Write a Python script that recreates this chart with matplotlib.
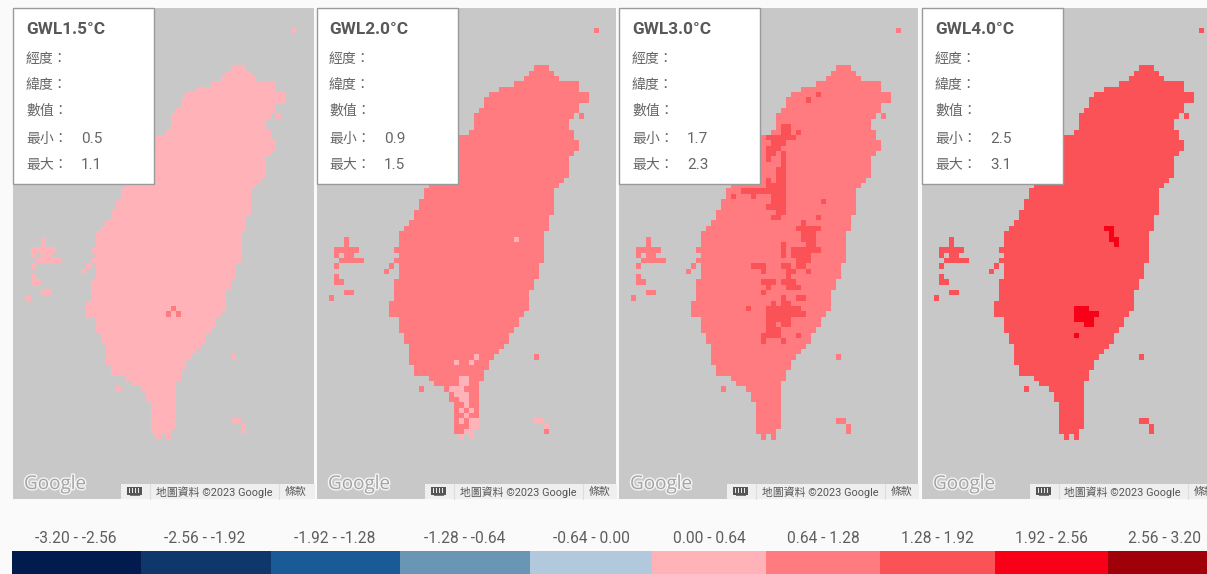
import numpy as np
import matplotlib
matplotlib.use("Agg")
import matplotlib.pyplot as plt
from matplotlib.colors import ListedColormap, BoundaryNorm
from matplotlib.patches import Rectangle
import matplotlib.patheffects as pe

plt.rcParams['font.family'] = ['Roboto', 'Noto Sans CJK TC', 'DejaVu Sans']

# ---------- data ----------
legend_bounds = [-3.20, -2.56, -1.92, -1.28, -0.64, 0.00, 0.64, 1.28, 1.92, 2.56, 3.20]
legend_labels = ["-3.20 - -2.56", "-2.56 - -1.92", "-1.92 - -1.28", "-1.28 - -0.64", "-0.64 - 0.00",
                 "0.00 - 0.64", "0.64 - 1.28", "1.28 - 1.92", "1.92 - 2.56", "2.56 - 3.20"]
legend_colors = ["#021B4E", "#10376B", "#1A5A96", "#6A96B5", "#B2C8DC",
                 "#FFB3B8", "#FF7B80", "#FA5257", "#F80018", "#A00008"]

panel_titles = ["GWL1.5°C", "GWL2.0°C", "GWL3.0°C", "GWL4.0°C"]
panel_min = ["0.5", "0.9", "1.7", "2.5"]
panel_max = ["1.1", "1.5", "2.3", "3.1"]
base_values = [0.32, 0.96, 0.96, 1.60]
spot_values = [0.96, 0.32, 1.60, 2.24]

# land cells: (row, first column, column after the last)
main_island = [
    (0,40,43),(1,39,44),(2,38,45),(3,36,49),(4,33,49),(5,31,51),(6,30,51),(7,30,49),(8,29,49),
    (9,28,48),(10,28,47),(11,28,47),(12,27,48),(13,25,48),(14,25,49),(15,25,49),(16,24,48),
    (17,24,47),(18,24,47),(19,23,47),(20,22,47),(21,21,46),(22,19,45),(23,18,44),(24,18,44),
    (25,17,44),(26,17,44),(27,16,44),(28,16,43),(29,15,43),(30,14,43),(31,13,42),(32,13,42),
    (33,13,42),(34,12,42),(35,13,42),(36,12,42),(37,13,41),(38,13,41),(39,13,41),(40,12,40),
    (41,12,40),(42,12,39),(43,12,39),(44,11,39),(45,11,39),(46,11,38),(47,13,37),(48,13,37),
    (49,13,36),(50,14,35),(51,14,35),(52,15,34),(53,15,33),(54,15,32),(55,15,31),(56,16,31),
    (57,16,30),(58,19,30),(59,20,29),(60,22,29),(61,23,29),(62,23,29),(63,24,29),(64,24,29),
    (65,24,29),(66,24,29),(67,24,29),(68,24,28),(69,25,26),(69,27,28),
]
islets = [
    (-7,52,53),(9,49,50),(37,11,12),(38,10,11),
    (32,2,3),(33,2,3),(34,0,5),(35,0,1),(35,2,4),(36,1,6),(37,0,1),(39,0,1),(40,0,2),(42,2,4),(43,-1,0),
    (60,17,18),(54,40,41),(66,40,42),(67,42,43),(68,42,43),
]

# cells of another class than the panel's main class: (row, first column, column after the last)
spots_15 = [(45,28,29),(46,27,28),(46,29,30)]
spots_20 = [
    (32,36,37),(54,28,29),(55,24,25),(55,27,28),(58,25,27),(59,25,27),(60,23,26),(61,24,27),(62,25,27),
    (63,26,27),(64,25,26),(64,27,28),(65,26,27),(66,25,26),(66,27,29),(67,27,29),(68,26,28),(69,25,26),
    (69,27,28),(66,40,42),(67,42,43),
]
spots_30 = [
    (5,36,37),(6,34,35),(11,29,31),(12,29,31),(12,32,33),(13,26,32),(14,27,30),(15,26,29),(16,24,25),
    (16,26,28),(16,29,30),(17,24,25),(17,26,27),(17,29,30),(18,29,30),(19,28,30),(20,28,30),(21,24,25),
    (21,26,27),(21,28,30),(22,26,30),(23,21,30),(24,19,20),(24,23,24),(24,27,30),(25,27,30),(25,37,38),
    (26,26,30),(27,28,30),(28,27,29),(28,36,37),(29,33,34),(30,32,37),(31,33,36),(32,33,36),(33,29,30),
    (33,34,36),(34,29,30),(34,31,37),(35,29,30),(35,31,35),(36,32,35),(37,23,26),(37,29,31),(37,32,34),
    (38,25,26),(38,30,32),(38,34,35),(39,30,31),(40,25,28),(40,29,32),(41,26,27),(41,30,33),(42,25,26),
    (43,29,30),(43,32,34),(44,27,28),(44,29,31),(45,22,23),(45,26,33),(46,26,34),(47,26,31),(48,26,28),
    (48,29,31),(49,26,29),(50,25,29),(50,32,33),(51,25,26),(51,29,30),
]
spots_40 = [(30,33,35),(31,34,35),(32,34,36),(33,35,36),(45,27,30),(46,27,32),(47,27,31),(48,29,31),(50,27,28)]
panel_spots = [spots_15, spots_20, spots_30, spots_40]

# ---------- layout (pixels) ----------
W, H = 1207, 574
BG = "#FAFAFA"
MAP_BG = "#C8C8C8"
panel_left = [13, 317, 619, 922]
panel_right = [314, 616, 918, 1207]
box_left = [13, 316.5, 619, 922]
text_left = [26, 329, 632, 935]
grid_x0 = [31.2, 333.7, 636.2, 939.2]
cell_w, cell_h, grid_y0 = 5.0, 5.35, 65.3
map_top, map_bottom = 8, 499
legend_px = [12, 141, 271, 400, 530, 652, 766, 880, 995, 1108, 1207]

fig = plt.figure(figsize=(W / 100, H / 100), dpi=100, facecolor=BG)
cmap = ListedColormap(legend_colors)
norm = BoundaryNorm(legend_bounds, cmap.N)

rows = np.arange(-8, 72)
cols = np.arange(-4, 58)


def fill(grid, runs, value):
    for r, c0, c1 in runs:
        grid[r - rows[0], c0 - cols[0]:c1 - cols[0]] = value


for i in range(4):
    l, rgt = panel_left[i], panel_right[i]
    ax = fig.add_axes([l / W, 1 - map_bottom / H, (rgt - l) / W, (map_bottom - map_top) / H])
    ax.set_facecolor(MAP_BG)
    grid = np.full((len(rows), len(cols)), np.nan)
    fill(grid, main_island + islets, base_values[i])
    fill(grid, panel_spots[i], spot_values[i])
    ax.pcolormesh(np.append(cols, cols[-1] + 1), np.append(rows, rows[-1] + 1), grid,
                  cmap=cmap, norm=norm, antialiased=False, linewidth=0)
    ax.set_xlim((l - grid_x0[i]) / cell_w, (rgt - grid_x0[i]) / cell_w)
    ax.set_ylim((map_bottom - grid_y0) / cell_h, (map_top - grid_y0) / cell_h)
    ax.set_xticks([]); ax.set_yticks([])
    for s in ax.spines.values():
        s.set_visible(False)

# overlay in pixel coordinates
ov = fig.add_axes([0, 0, 1, 1], facecolor="none")
ov.set_xlim(0, W); ov.set_ylim(H, 0); ov.axis("off")

TXT = "#666666"
box_w, box_h = 141, 176
row_labels = ["經度：", "緯度：", "數值："]
row_y = [59, 85, 111]
for i in range(4):
    l, rgt = panel_left[i], panel_right[i]
    t = text_left[i]
    ov.add_patch(Rectangle((box_left[i], map_top), box_w, box_h, fc="white", ec="#9A9A9A", lw=1, zorder=5))
    ov.text(t, 30, panel_titles[i], fontsize=12.4, fontweight="bold", color="#585858",
            va="center", ha="left", zorder=6)
    for lab, y in zip(row_labels, row_y):
        ov.text(t, y, lab, fontsize=10, color=TXT, va="center", ha="left", zorder=6)
    ov.text(t, 139, "最小：", fontsize=10, color=TXT, va="center", ha="left", zorder=6)
    ov.text(t, 165, "最大：", fontsize=10, color=TXT, va="center", ha="left", zorder=6)
    ov.text(t + 55, 139, panel_min[i], fontsize=11, color=TXT, va="center", ha="left", zorder=6)
    ov.text(t + 55, 165, panel_max[i], fontsize=11, color=TXT, va="center", ha="left", zorder=6)

    # Google logo
    g = ov.text(l + 11, 484, "Google", fontsize=13.6, color="#A4A4A4", va="center", ha="left",
                family=["Open Sans", "DejaVu Sans"], zorder=6)
    g.set_path_effects([pe.withStroke(linewidth=2.0, foreground="#F4F4F4")])

    # attribution bar
    bar_l = l + 108
    bar_r = min(rgt + 1, W)
    ov.add_patch(Rectangle((bar_l, 484), bar_r - bar_l, 15, fc="#EFEFEF", ec="none", zorder=5))
    ov.plot([bar_l + 29] * 2, [484, 499], color="#DDDDDD", lw=0.8, zorder=6)
    ov.plot([bar_l + 158] * 2, [484, 499], color="#DDDDDD", lw=0.8, zorder=6)
    ov.add_patch(Rectangle((bar_l + 6, 487), 15, 7.5, fc="#555555", ec="none", zorder=6))
    ov.add_patch(Rectangle((bar_l + 8.5, 494.8), 10, 1.2, fc="#777777", ec="none", zorder=6))
    for dx in (2, 5, 8, 11):
        ov.plot([bar_l + 6 + dx] * 2, [488, 491.5], color="#EFEFEF", lw=0.7, zorder=7)
    ov.text(bar_l + 34.5, 491.7, "地圖資料 ©2023 Google", fontsize=7.8, color="#555555",
            va="center", ha="left", zorder=6, clip_on=True)
    ov.text(bar_l + 164, 491.7, "條款", fontsize=7.8, color="#555555", va="center", ha="left",
            zorder=6, clip_on=True)

# legend
for k in range(len(legend_colors)):
    x0, x1 = legend_px[k], legend_px[k + 1]
    ov.bar((x0 + x1) / 2, H - 551, width=x1 - x0, bottom=551, color=legend_colors[k], linewidth=0)
label_x = [76, 205, 335, 465, 591, 709, 823, 937, 1051, 1165]
for x, lab in zip(label_x, legend_labels):
    ov.text(x, 538.5, lab, fontsize=11.2, color="#5E5E5E", va="center", ha="center")

fig.savefig("out.png", dpi=100, facecolor=BG)
